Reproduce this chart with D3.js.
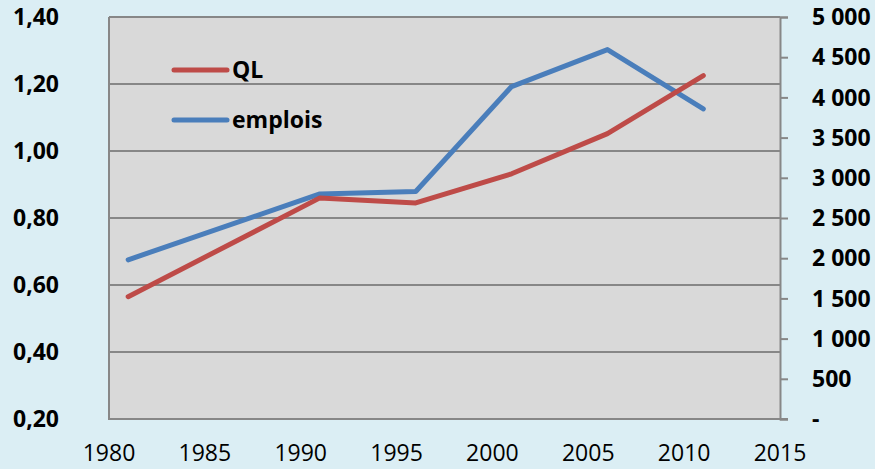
<!DOCTYPE html>
<html>
<head>
<meta charset="utf-8">
<script src="https://cdn.jsdelivr.net/npm/d3@7"></script>
<style>
  body { margin: 0; background: #dbeef4; }
  svg { display: block; font-family: "Open Sans", "Noto Sans", sans-serif; }
  .lab { font-size: 23px; font-weight: bold; fill: #000; }
  .xlab { font-size: 23px; fill: #000; }
</style>
</head>
<body>
<svg id="chart" width="875" height="469"></svg>
<script>
// data
var years = [1981, 1991, 1996, 2001, 2006, 2011]
var ql = [0.565, 0.86, 0.845, 0.932, 1.052, 1.225]
var emplois = [1980, 2800, 2830, 4135, 4595, 3858]
var leftTicks = [0.2, 0.4, 0.6, 0.8, 1.0, 1.2, 1.4]
var rightTicks = [0, 500, 1000, 1500, 2000, 2500, 3000, 3500, 4000, 4500, 5000]
var xTicks = [1980, 1985, 1990, 1995, 2000, 2005, 2010, 2015]

var margin = {left: 109, right: 95, top: 17, bottom: 50}
var svg = d3.select("#chart")
var W = 875 - margin.left - margin.right, H = 469 - margin.top - margin.bottom

var x = d3.scaleLinear().domain([1980, 2015]).range([0, W])
var yL = d3.scaleLinear().domain([0.2, 1.4]).range([H, 0])
var yR = d3.scaleLinear().domain([0, 5000]).range([H, 0])

var g = svg.append("g").attr("transform", "translate(" + margin.left + "," + margin.top + ")")

g.append("rect").attr("width", W).attr("height", H).attr("fill", "#d9d9d9")

// gridlines from left axis
g.append("g").selectAll("line")
    .data(leftTicks)
    .enter()
    .append("line")
    .attr("x1", 0).attr("x2", W)
    .attr("y1", d => yL(d)).attr("y2", d => yL(d))
    .attr("stroke", "#878787").attr("stroke-width", 2)

// left axis line
g.append("line").attr("x1", 0).attr("x2", 0).attr("y1", 0).attr("y2", H + 1)
    .attr("stroke", "#878787").attr("stroke-width", 2)

// right axis with ticks
var rAxis = d3.axisRight(yR).tickValues(rightTicks).tickSize(8).tickFormat("")
var ra = g.append("g").attr("transform", "translate(" + W + ",0)").call(rAxis)
ra.select(".domain").attr("stroke", "#878787").attr("stroke-width", 2)
ra.selectAll(".tick line").attr("stroke", "#878787").attr("stroke-width", 2)

var fmtR = d => d == 0 ? "-" : d3.format(",")(d).replace(/,/g, "\u00a0")

g.append("g").selectAll("text")
    .data(rightTicks)
    .enter()
    .append("text")
    .attr("class", "lab")
    .attr("x", W + 32)
    .attr("y", d => yR(d))
    .attr("dy", "0.36em")
    .text(d => fmtR(d))

g.append("g").selectAll("text")
    .data(leftTicks)
    .enter()
    .append("text")
    .attr("class", "lab")
    .attr("x", -50)
    .attr("y", d => yL(d))
    .attr("dy", "0.36em")
    .style("text-anchor", "end")
    .text(d => d.toFixed(2).replace(".", ","))

g.append("g").selectAll("text")
    .data(xTicks)
    .enter()
    .append("text")
    .attr("class", "xlab")
    .attr("x", d => x(d))
    .attr("y", H + 34)
    .attr("dy", "0.36em")
    .style("text-anchor", "middle")
    .text(d => d)

// bottom axis line
g.append("line").attr("x1", 0).attr("x2", W + 8).attr("y1", H).attr("y2", H)
    .attr("stroke", "#878787").attr("stroke-width", 2)

var lineL = d3.line().x((d, i) => x(years[i])).y(d => yL(d))
var lineR = d3.line().x((d, i) => x(years[i])).y(d => yR(d))

g.append("path").datum(emplois).attr("d", lineR)
    .attr("fill", "none").attr("stroke", "#4a7ebb").attr("stroke-width", 5)
    .attr("stroke-linecap", "round").attr("stroke-linejoin", "round")
g.append("path").datum(ql).attr("d", lineL)
    .attr("fill", "none").attr("stroke", "#be4b48").attr("stroke-width", 5)
    .attr("stroke-linecap", "round").attr("stroke-linejoin", "round")

// legend
var legend = [{name: "QL", color: "#be4b48"}, {name: "emplois", color: "#4a7ebb"}]
var lg = svg.append("g").selectAll("g")
    .data(legend)
    .enter()
    .append("g")
    .attr("transform", (d, i) => "translate(174," + (70 + i * 50) + ")")
lg.append("line").attr("x1", 0).attr("x2", 53).attr("y1", 0).attr("y2", 0)
    .attr("stroke", d => d.color).attr("stroke-width", 5).attr("stroke-linecap", "round")
lg.append("text").attr("class", "lab").attr("x", 58).attr("dy", "0.36em").text(d => d.name)
</script>
</body>
</html>
